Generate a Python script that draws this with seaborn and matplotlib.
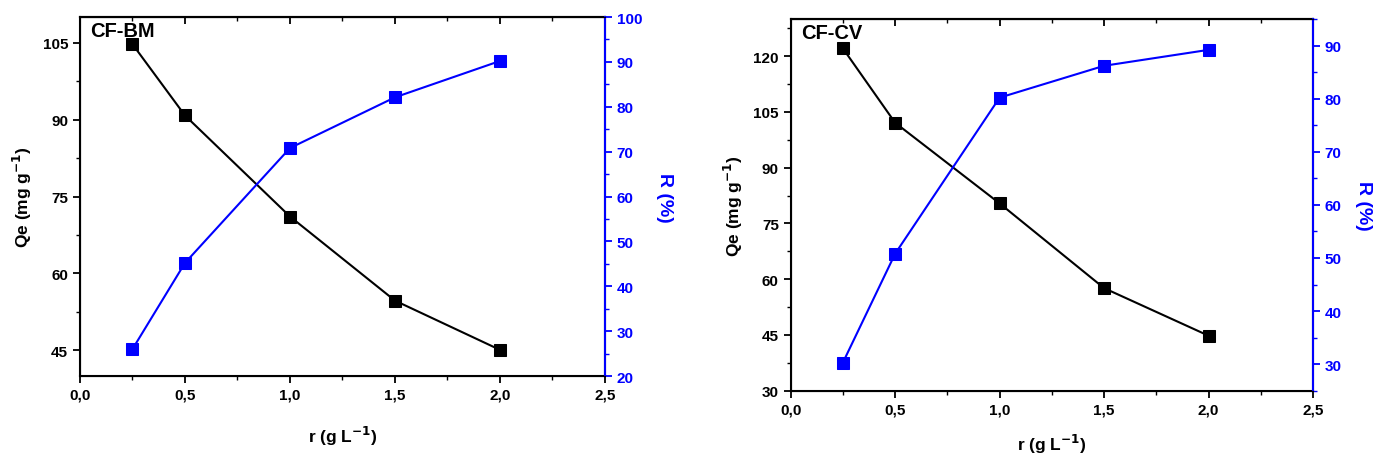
import matplotlib
matplotlib.use("Agg")
import matplotlib.pyplot as plt
from matplotlib.ticker import MultipleLocator, FuncFormatter, NullFormatter
import seaborn as sns
import pandas as pd

# dose values (g/L)
dose = [0.25, 0.5, 1.0, 1.5, 2.0]

# CF-BM
qe_bm = [104.7, 90.8, 71.1, 54.7, 45.1]
r_bm = [26.0, 45.2, 70.8, 82.1, 90.2]

# CF-CV
qe_cv = [122.1, 102.1, 80.4, 57.6, 44.8]
r_cv = [30.3, 50.8, 80.2, 86.2, 89.2]

sns.set_style("ticks")
plt.rcParams["font.family"] = ["Liberation Sans", "DejaVu Sans"]
plt.rcParams["font.weight"] = "bold"
plt.rcParams["axes.labelweight"] = "bold"
for k in ["text.color", "axes.labelcolor", "xtick.color", "ytick.color", "axes.edgecolor"]:
    plt.rcParams[k] = "black"

BLUE = "#0000ff"
comma = FuncFormatter(lambda v, p: ("%.1f" % v).replace(".", ","))


def panel(pos, name, qe, r, qlim, qstep, rlim, xpad):
    ax = fig.add_axes(pos)
    df = pd.DataFrame({"r": dose, "qe": qe, "R": r})
    sns.lineplot(data=df, x="r", y="qe", ax=ax, color="black", marker="s",
                 markersize=8, markeredgecolor="black", linewidth=1.5)
    ax.set_xlim(0, 2.5)
    ax.set_ylim(*qlim)
    ax.xaxis.set_major_locator(MultipleLocator(0.5))
    ax.xaxis.set_minor_locator(MultipleLocator(0.25))
    ax.xaxis.set_major_formatter(comma)
    ax.yaxis.set_major_locator(MultipleLocator(qstep))
    ax.yaxis.set_minor_locator(MultipleLocator(qstep / 2))
    ax.set_xlabel("r (g L$^{\\mathbf{-1}}$)", fontsize=12.5, labelpad=xpad)
    ax.set_ylabel("Qe (mg g$^{\\mathbf{-1}}$)", fontsize=12.5, labelpad=6)
    ax.tick_params(axis="both", which="major", labelsize=11, width=1.3, length=5)
    ax.tick_params(axis="both", which="minor", width=1.0, length=3)
    for s in ax.spines.values():
        s.set_linewidth(1.5)

    top = ax.secondary_xaxis("top")
    top.xaxis.set_major_locator(MultipleLocator(0.5))
    top.xaxis.set_minor_locator(MultipleLocator(0.25))
    top.xaxis.set_major_formatter(NullFormatter())
    top.tick_params(which="major", direction="in", width=1.3, length=5)
    top.tick_params(which="minor", direction="in", width=1.0, length=3)
    top.spines["top"].set_linewidth(1.5)

    ax.text(0.02, 0.99, name, transform=ax.transAxes, fontsize=14.5,
            fontweight="bold", va="top", ha="left")

    ax2 = ax.twinx()
    sns.lineplot(data=df, x="r", y="R", ax=ax2, color=BLUE, marker="s",
                 markersize=8, markeredgecolor=BLUE, linewidth=1.5)
    ax2.set_ylim(*rlim)
    ax2.yaxis.set_major_locator(MultipleLocator(10))
    ax2.yaxis.set_minor_locator(MultipleLocator(5))
    ax2.set_ylabel("R (%)", color=BLUE, fontsize=14, rotation=270, labelpad=22)
    ax2.tick_params(axis="y", which="major", colors=BLUE, labelsize=11, width=1.3, length=5)
    ax2.tick_params(axis="y", which="minor", colors=BLUE, width=1.0, length=3)
    ax2.spines["right"].set_color(BLUE)
    ax2.spines["right"].set_linewidth(1.5)
    return ax


fig = plt.figure(figsize=(13.84, 4.56), dpi=100)

panel([0.0578, 0.1732, 0.3793, 0.7873], "CF-BM", qe_bm, r_bm,
      (40, 110), 15, (20, 100), 16)
panel([0.5713, 0.141, 0.3774, 0.815], "CF-CV", qe_cv, r_cv,
      (30, 130), 15, (25, 95), 11)

fig.savefig("out.png", dpi=100)
